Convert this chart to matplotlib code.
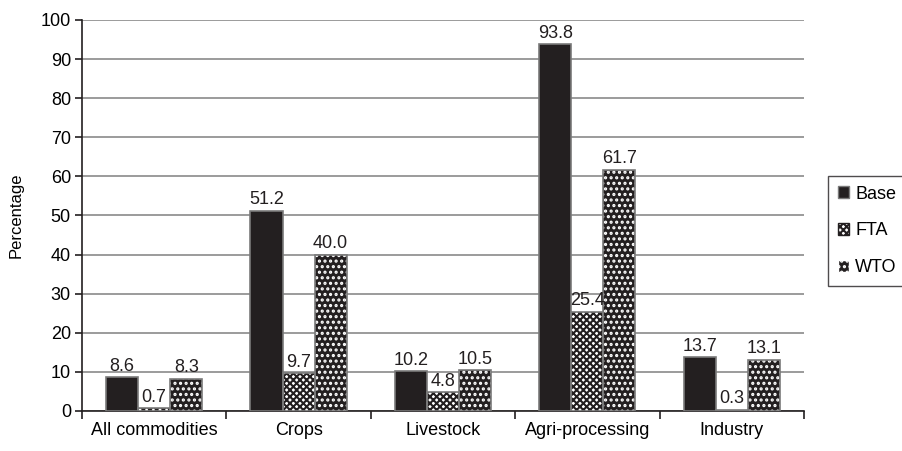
import numpy as np
import matplotlib
matplotlib.use("Agg")
import matplotlib.pyplot as plt
from matplotlib.patches import Patch

plt.rcParams["font.family"] = ["Liberation Sans", "DejaVu Sans"]
plt.rcParams["hatch.linewidth"] = 1.5

categories = ["All commodities", "Crops", "Livestock", "Agri-processing", "Industry"]
base = [8.6, 51.2, 10.2, 93.8, 13.7]
fta = [0.7, 9.7, 4.8, 25.4, 0.3]
wto = [8.3, 40.0, 10.5, 61.7, 13.1]
series_names = ["Base", "FTA", "WTO"]

fig = plt.figure(figsize=(9.03, 4.51), dpi=100)
ax = fig.add_axes([0.0908, 0.0887, 0.7995, 0.867])

x = np.arange(len(categories))
w = 2.0 / 9.0
styles = [
    dict(face="#231f20", hatch=None, hcol="#231f20"),
    dict(face="white", hatch="xxxxx", hcol="#231f20"),
    dict(face="#231f20", hatch="...", hcol="white"),
]

for i, (vals, st) in enumerate(zip([base, fta, wto], styles)):
    pos = x + (i - 1) * w
    # fill + pattern
    ax.bar(pos, vals, w, color=st["face"], hatch=st["hatch"],
           edgecolor=st["hcol"], linewidth=0, zorder=3)
    # outline
    ax.bar(pos, vals, w, fill=False, edgecolor="#7a7a7a", linewidth=1.2, zorder=4)
    for p, v in zip(pos, vals):
        ax.text(p, v + 0.6, f"{v:.1f}", ha="center", va="bottom", fontsize=13,
                color="#231f20", zorder=5)

ax.set_xlim(-0.5, len(categories) - 0.5)
ax.set_ylim(0, 100)
ax.set_yticks(np.arange(0, 101, 10))
ax.yaxis.grid(True, color="#8a8a8a", linewidth=1.2, zorder=0)
ax.set_axisbelow(True)

ax.set_xticks(x)
ax.set_xticklabels(categories)
ax.set_xticks(np.arange(-0.5, len(categories), 1), minor=True)
ax.tick_params(axis="x", which="major", length=0, pad=8, labelsize=13)
ax.tick_params(axis="x", which="minor", length=6, width=1.2, color="#231f20")
ax.tick_params(axis="y", length=5, width=1.2, color="#231f20", labelsize=13, pad=3)

for s in ["top", "right"]:
    ax.spines[s].set_visible(False)
for s in ["left", "bottom"]:
    ax.spines[s].set_color("#231f20")
    ax.spines[s].set_linewidth(1.2)

ax.set_ylabel("Percentage", fontsize=12, labelpad=12)

handles = [
    Patch(facecolor="#231f20", edgecolor="#7a7a7a"),
    Patch(facecolor="white", hatch="xxxxx", edgecolor="#231f20"),
    Patch(facecolor="#231f20", hatch="...", edgecolor="white"),
]
leg = fig.legend(handles, series_names, loc="center left",
                 bbox_to_anchor=(0.917, 0.488), fontsize=13,
                 handlelength=0.6, handleheight=0.6, handletextpad=0.35,
                 labelspacing=1.1, frameon=True, fancybox=False,
                 borderpad=0.55, borderaxespad=0)
leg.get_frame().set_edgecolor("#231f20")
leg.get_frame().set_linewidth(1.0)

fig.savefig("out.png", dpi=100)
